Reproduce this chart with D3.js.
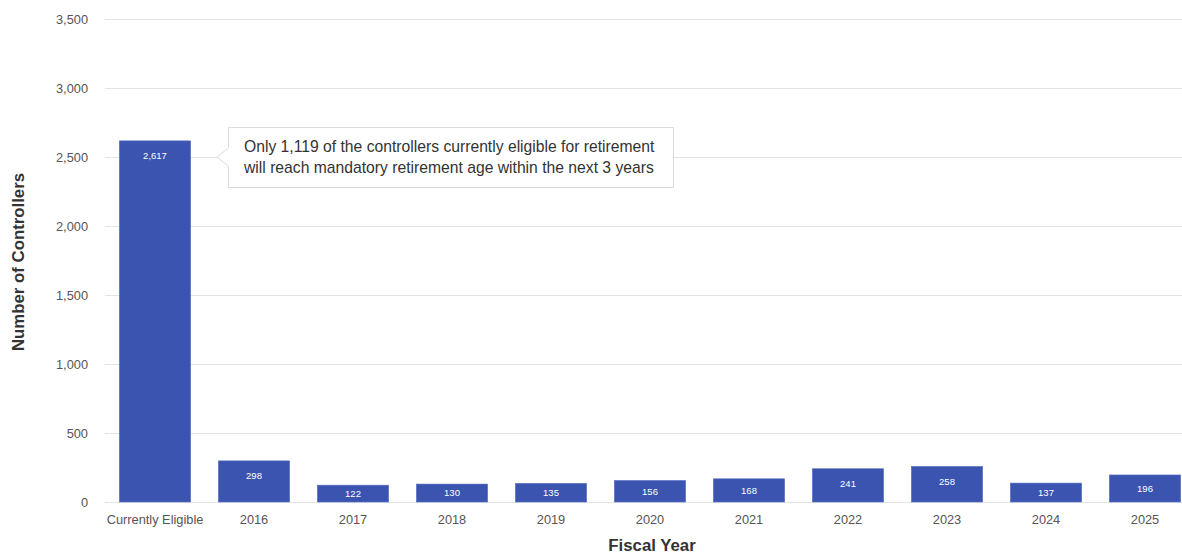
<!DOCTYPE html>
<html>
<head>
<meta charset="utf-8">
<script src="https://cdn.jsdelivr.net/npm/d3@7"></script>
<style>
  html, body { margin: 0; padding: 0; background: #fff; }
  svg { display: block; font-family: "Liberation Sans", Arial, Helvetica, sans-serif; }
</style>
</head>
<body>
<svg id="chart" width="1182" height="556"></svg>
<script>
const categories = ["Currently Eligible", "2016", "2017", "2018", "2019", "2020", "2021", "2022", "2023", "2024", "2025"];
const values = [2617, 298, 122, 130, 135, 156, 168, 241, 258, 137, 196];
const valueLabels = ["2,617", "298", "122", "130", "135", "156", "168", "241", "258", "137", "196"];
const yTicks = [0, 500, 1000, 1500, 2000, 2500, 3000, 3500];
const calloutLines = [
  "Only 1,119 of the controllers currently eligible for retirement",
  "will reach mandatory retirement age within the next 3 years"
];
const yTitle = "Number of Controllers";
const xTitle = "Fiscal Year";

const svg = d3.select("#chart");
const W = 1182, H = 556;
const plotLeft = 105.5, plotRight = 1194.5, plotTop = 19, plotBottom = 502;

const x = d3.scaleBand().domain(categories).range([plotLeft, plotRight])
  .paddingInner(0.28).paddingOuter(0.14);
const y = d3.scaleLinear().domain([0, 3500]).range([plotBottom, plotTop]);

// gridlines
const grid = svg.append("g");
grid.selectAll("line").data(yTicks).join("line")
  .attr("x1", 105).attr("x2", W)
  .attr("y1", d => Math.round(y(d)) + 0.5).attr("y2", d => Math.round(y(d)) + 0.5)
  .attr("stroke", "#e2e5e7").attr("stroke-width", 1);

// y axis
const yAxis = d3.axisLeft(y).tickValues(yTicks).tickSize(0).tickPadding(0)
  .tickFormat(d3.format(","));
const yg = svg.append("g").attr("transform", "translate(88,0)").call(yAxis);
yg.select(".domain").remove();
yg.selectAll("text").attr("fill", "#555").style("font-size", "12.8px")
  .attr("font-family", "'Liberation Sans', Arial, sans-serif");

// x axis
const xAxis = d3.axisBottom(x).tickSize(0).tickPadding(0);
const xg = svg.append("g").attr("transform", "translate(0,515)").call(xAxis);
xg.select(".domain").remove();
xg.selectAll("text").attr("fill", "#555").style("font-size", "12.8px")
  .attr("font-family", "'Liberation Sans', Arial, sans-serif");

// bars
svg.append("g").selectAll("rect").data(values).join("rect")
  .attr("x", (d, i) => x(categories[i]))
  .attr("y", d => y(d))
  .attr("width", x.bandwidth())
  .attr("height", d => y(0) - y(d))
  .attr("fill", "#3a54b0")
  .attr("stroke", "#5a70c4").attr("stroke-width", 0.6);

// value labels
svg.append("g").selectAll("text").data(values).join("text")
  .attr("x", (d, i) => x(categories[i]) + x.bandwidth() / 2)
  .attr("y", d => { const h = y(0) - y(d); return y(d) + Math.min(15, h / 2); })
  .attr("dy", "0.35em")
  .attr("text-anchor", "middle")
  .attr("fill", "#fff")
  .style("font-size", "9.5px")
  .text((d, i) => valueLabels[i]);

// callout
const bx = 228.5, byTop = 127.5, bw = 445, bh = 60;
const tipX = 217, tipY = y(2500);
const cg = svg.append("g");
const path = d3.path();
path.moveTo(bx, byTop);
path.lineTo(bx + bw, byTop);
path.lineTo(bx + bw, byTop + bh);
path.lineTo(bx, byTop + bh);
path.lineTo(bx, tipY + 9);
path.lineTo(tipX, tipY);
path.lineTo(bx, tipY - 9);
path.closePath();
cg.append("path").attr("d", path.toString())
  .attr("fill", "#fff").attr("stroke", "#d9dcde").attr("stroke-width", 1);
cg.selectAll("text").data(calloutLines).join("text")
  .attr("x", 244)
  .attr("y", (d, i) => 152 + i * 21)
  .attr("fill", "#333")
  .style("font-size", "15.7px")
  .text(d => d);

// axis titles
svg.append("text")
  .attr("transform", `translate(24,${262}) rotate(-90)`)
  .attr("text-anchor", "middle")
  .attr("fill", "#333")
  .style("font-size", "16.8px").style("font-weight", "bold")
  .text(yTitle);
svg.append("text")
  .attr("x", 652).attr("y", 551)
  .attr("text-anchor", "middle")
  .attr("fill", "#333")
  .style("font-size", "16.8px").style("font-weight", "bold")
  .text(xTitle);
</script>
</body>
</html>
